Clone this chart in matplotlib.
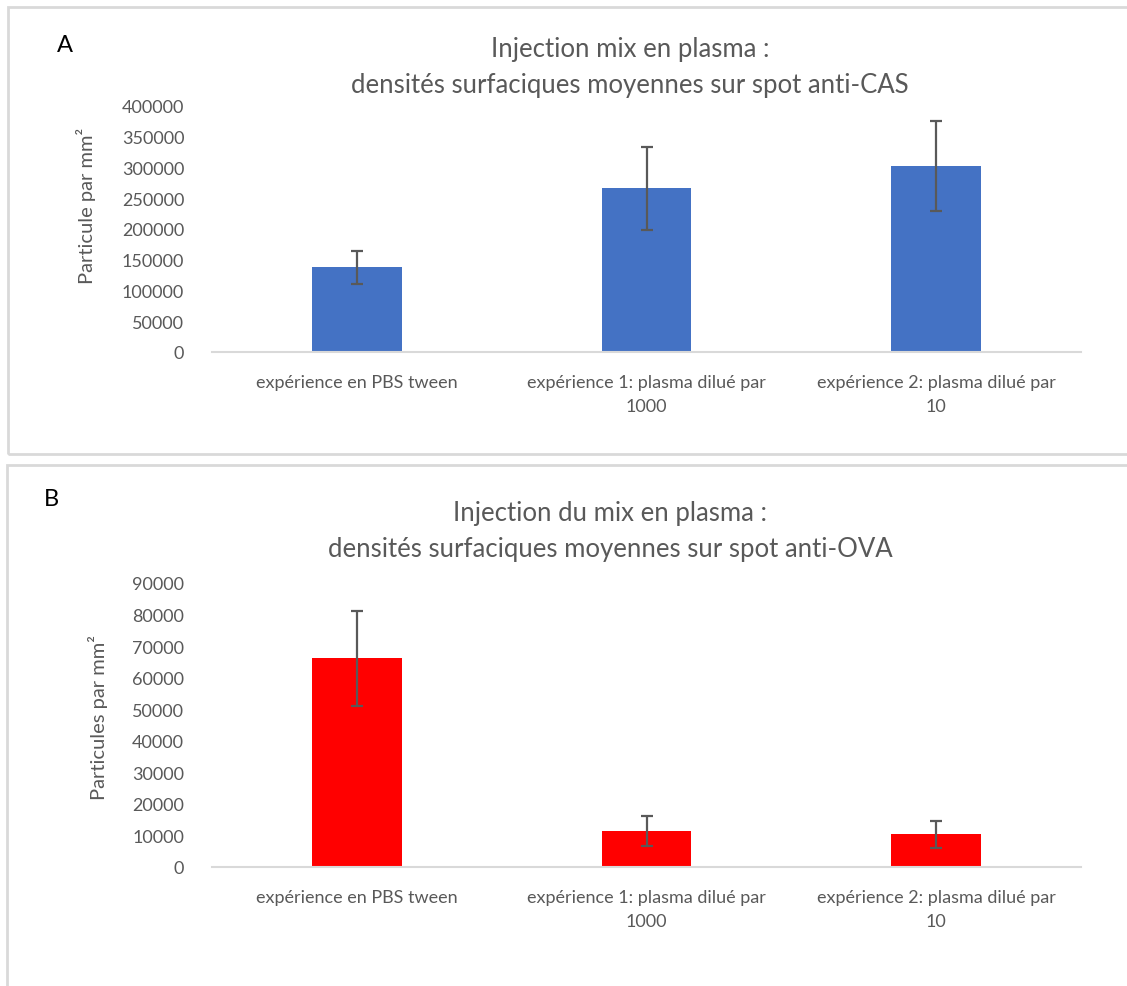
import matplotlib.pyplot as plt
from matplotlib.patches import Rectangle

# data
categories = ['expérience en PBS tween',
              'expérience 1: plasma dilué par\n1000',
              'expérience 2: plasma dilué par\n10']
cas_means = [138000, 266000, 303000]
cas_err = [27000, 67000, 73000]
ova_means = [66100, 11500, 10300]
ova_err = [15000, 4800, 4400]

W, H = 1127, 987
grey = '#595959'
plt.rcParams['font.family'] = ['Lato', 'DejaVu Sans']

fig = plt.figure(figsize=(W / 100, H / 100), dpi=100)


def fx(px):
    return px / W


def fy(py):
    return 1 - py / H


# panel borders
fig.patches.append(Rectangle((fx(8), fy(455)), fx(1127 - 8) + 0.01, fy(8) - fy(455),
                             transform=fig.transFigure, fill=False, ec='#d9d9d9', lw=2))
fig.patches.append(Rectangle((fx(7), fy(1000)), fx(1127 - 7) + 0.01, fy(466) - fy(1000),
                             transform=fig.transFigure, fill=False, ec='#d9d9d9', lw=2))


def panel(top, bottom, means, errs, color, ymax, step, ylabel, ylab_x, ylab_y):
    ax = fig.add_axes([fx(212), fy(bottom), fx(1081) - fx(212), fy(top) - fy(bottom)])
    x = range(len(means))
    ax.bar(x, means, width=0.31, color=color, zorder=2)
    ax.errorbar(x, means, yerr=errs, fmt='none', ecolor=grey, elinewidth=1.6,
                capsize=4.5, capthick=1.6, zorder=3)
    ax.set_xlim(-0.5, 2.5)
    ax.set_ylim(0, ymax)
    ax.set_yticks(range(0, ymax + 1, step))
    ax.set_xticks(list(x))
    ax.set_xticklabels(categories, fontsize=13, color=grey, linespacing=1.6)
    ax.tick_params(axis='y', length=0, pad=20, labelsize=13, labelcolor=grey)
    ax.tick_params(axis='x', length=0, pad=16)
    for s in ['top', 'right', 'left']:
        ax.spines[s].set_visible(False)
    ax.spines['bottom'].set_color('#d9d9d9')
    ax.spines['bottom'].set_linewidth(1.5)
    fig.text(fx(ylab_x), fy(ylab_y), ylabel, rotation=90,
             ha='center', va='center', fontsize=14.5, color=grey)
    return ax


panel(107, 353, cas_means, cas_err, '#4472c4', 400000, 50000,
      'Particule par mm²', 86, 206)
panel(584, 868, ova_means, ova_err, '#ff0000', 90000, 10000,
      'Particules par mm²', 98, 718)

fig.text(fx(630), fy(50), 'Injection mix en plasma :', ha='center', va='center',
         fontsize=18.5, color=grey)
fig.text(fx(630), fy(85), 'densités surfaciques moyennes sur spot anti-CAS',
         ha='center', va='center', fontsize=18.5, color=grey)
fig.text(fx(610), fy(514), 'Injection du mix en plasma :', ha='center', va='center',
         fontsize=18.5, color=grey)
fig.text(fx(610), fy(549), 'densités surfaciques moyennes sur spot anti-OVA',
         ha='center', va='center', fontsize=18.5, color=grey)

fig.text(fx(57), fy(45), 'A', ha='left', va='center', fontsize=17, color='black')
fig.text(fx(44), fy(500), 'B', ha='left', va='center', fontsize=17, color='black')

fig.savefig('out.png', dpi=100, facecolor='white')
